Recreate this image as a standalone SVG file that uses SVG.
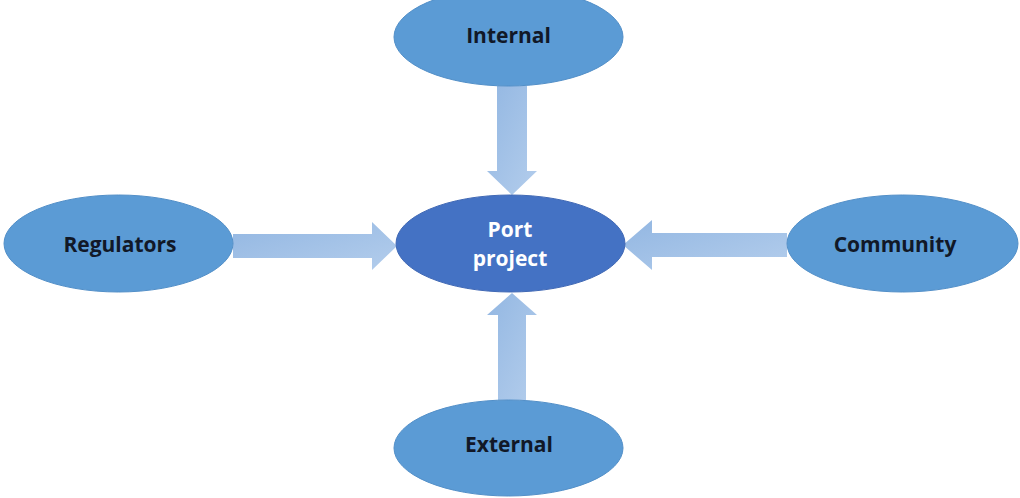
<svg xmlns="http://www.w3.org/2000/svg" width="1020" height="498" viewBox="0 0 1020 498">
  <style>
    .node { fill: #5B9BD5; stroke: #528FC8; stroke-width: 1; }
    .hub { fill: #4472C4; stroke: #4169B5; stroke-width: 1; }
    .label { font-family: "Open Sans", "Liberation Sans", sans-serif; font-weight: bold; font-size: 21px; fill: #111827; text-anchor: middle; }
    .hub-label { font-family: "Open Sans", "Liberation Sans", sans-serif; font-weight: bold; font-size: 21px; fill: #FFFFFF; text-anchor: middle; }
    .arrow { fill: url(#arrowFill); }
  </style>
  <defs>
    <linearGradient id="arrowFill" x1="0" y1="0" x2="1" y2="1">
      <stop offset="0" stop-color="#93B7E2"/>
      <stop offset="1" stop-color="#B3CDEC"/>
    </linearGradient>
  </defs>
  <rect width="1020" height="498" fill="#FFFFFF"/>

  <!-- block arrows pointing into the hub -->
  <g id="connectors">
    <!-- from Internal (down) -->
    <polygon class="arrow" points="497,86 527,86 527,171 537,171 512,195 487,171 497,171"/>
    <!-- from External (up) -->
    <polygon class="arrow" points="498,400 526,400 526,315 537,315 512,293 487,315 498,315"/>
    <!-- from Regulators (right) -->
    <polygon class="arrow" points="233,234 372,234 372,222 397,246 372,270 372,258 233,258"/>
    <!-- from Community (left) -->
    <polygon class="arrow" points="787,233 652,233 652,220 623,245 652,270 652,257 787,257"/>
  </g>

  <g id="internal">
    <ellipse class="node" cx="508.5" cy="37" rx="114.5" ry="49"/>
    <text class="label" x="508.5" y="43">Internal</text>
  </g>

  <g id="regulators">
    <ellipse class="node" cx="118.5" cy="243.5" rx="114.5" ry="48.5"/>
    <text class="label" x="120" y="252">Regulators</text>
  </g>

  <g id="port-project">
    <ellipse class="hub" cx="510.5" cy="243.5" rx="114.5" ry="48.5"/>
    <text class="hub-label" x="510" y="237">Port</text>
    <text class="hub-label" x="510" y="266">project</text>
  </g>

  <g id="community">
    <ellipse class="node" cx="902.5" cy="243.5" rx="115.5" ry="48.5"/>
    <text class="label" x="895" y="252">Community</text>
  </g>

  <g id="external">
    <ellipse class="node" cx="508.5" cy="448" rx="114.5" ry="48"/>
    <text class="label" x="509" y="452">External</text>
  </g>
</svg>
